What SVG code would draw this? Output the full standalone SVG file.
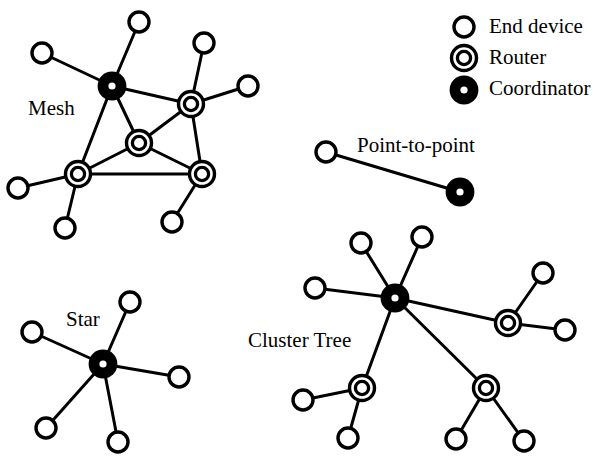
<svg xmlns="http://www.w3.org/2000/svg" xmlns:xlink="http://www.w3.org/1999/xlink" width="593" height="456" viewBox="0 0 593 456">
<style>
.e{stroke:#000;stroke-width:3;fill:none;stroke-linecap:round}
.t{font-family:"Liberation Serif","Times New Roman",serif;font-size:21px;fill:#000}
</style>
<defs>
<g id="end"><circle r="10" fill="#fff" stroke="#000" stroke-width="3.4"/></g>
<g id="rtr"><circle r="12.5" fill="#fff" stroke="#000" stroke-width="3.4"/><circle r="6.6" fill="#fff" stroke="#000" stroke-width="3.3"/></g>
<g id="crd"><circle r="14.4" fill="#000"/><circle r="3.6" fill="#fff"/></g>
</defs>
<rect width="593" height="456" fill="#fff"/>
<g id="connectors" class="e">
<!-- Mesh -->
<line x1="112" y1="86" x2="139" y2="22"/>
<line x1="112" y1="86" x2="42" y2="53"/>
<line x1="112" y1="86" x2="191" y2="104"/>
<line x1="112" y1="86" x2="139" y2="143"/>
<line x1="112" y1="86" x2="78" y2="174"/>
<line x1="191" y1="104" x2="204" y2="43"/>
<line x1="191" y1="104" x2="248" y2="86"/>
<line x1="191" y1="104" x2="139" y2="143"/>
<line x1="191" y1="104" x2="202" y2="174"/>
<line x1="139" y1="143" x2="78" y2="174"/>
<line x1="139" y1="143" x2="202" y2="174"/>
<line x1="78" y1="174" x2="202" y2="174"/>
<line x1="78" y1="174" x2="18" y2="188"/>
<line x1="78" y1="174" x2="65" y2="228"/>
<line x1="202" y1="174" x2="172" y2="222"/>
<!-- Point-to-point -->
<line x1="326" y1="152" x2="460" y2="192"/>
<!-- Star -->
<line x1="103" y1="364" x2="130" y2="302"/>
<line x1="103" y1="364" x2="32" y2="332"/>
<line x1="103" y1="364" x2="179" y2="377"/>
<line x1="103" y1="364" x2="46" y2="428"/>
<line x1="103" y1="364" x2="118" y2="442"/>
<!-- Cluster tree -->
<line x1="395" y1="298" x2="361" y2="243"/>
<line x1="395" y1="298" x2="422" y2="237"/>
<line x1="395" y1="298" x2="315" y2="288"/>
<line x1="395" y1="298" x2="508" y2="323"/>
<line x1="395" y1="298" x2="362" y2="388"/>
<line x1="395" y1="298" x2="486" y2="388"/>
<line x1="508" y1="323" x2="543" y2="273"/>
<line x1="508" y1="323" x2="565" y2="330"/>
<line x1="362" y1="388" x2="303" y2="400"/>
<line x1="362" y1="388" x2="348" y2="438"/>
<line x1="486" y1="388" x2="456" y2="439"/>
<line x1="486" y1="388" x2="524" y2="441"/>
</g>
<!-- Mesh nodes -->
<g id="mesh-coord"><use xlink:href="#crd" x="112" y="86"/></g>
<g id="mesh-r1"><use xlink:href="#rtr" x="191" y="104"/></g>
<g id="mesh-r2"><use xlink:href="#rtr" x="139" y="143"/></g>
<g id="mesh-r3"><use xlink:href="#rtr" x="78" y="174"/></g>
<g id="mesh-r4"><use xlink:href="#rtr" x="202" y="174"/></g>
<g id="mesh-e1"><use xlink:href="#end" x="139" y="22"/></g>
<g id="mesh-e2"><use xlink:href="#end" x="42" y="53"/></g>
<g id="mesh-e3"><use xlink:href="#end" x="204" y="43"/></g>
<g id="mesh-e4"><use xlink:href="#end" x="248" y="86"/></g>
<g id="mesh-e5"><use xlink:href="#end" x="18" y="188"/></g>
<g id="mesh-e6"><use xlink:href="#end" x="65" y="228"/></g>
<g id="mesh-e7"><use xlink:href="#end" x="172" y="222"/></g>
<text class="t" x="28" y="115">Mesh</text>
<!-- Legend -->
<g id="legend-end"><use xlink:href="#end" x="464" y="27"/><text class="t" x="489" y="33">End device</text></g>
<g id="legend-router"><use xlink:href="#rtr" x="464" y="58"/><text class="t" x="489" y="64">Router</text></g>
<g id="legend-coord"><use xlink:href="#crd" x="464" y="90"/><text class="t" x="489" y="95">Coordinator</text></g>
<!-- Point-to-point -->
<g id="p2p-end"><use xlink:href="#end" x="326" y="152"/></g>
<g id="p2p-coord"><use xlink:href="#crd" x="460" y="192"/></g>
<text class="t" x="357" y="152">Point-to-point</text>
<!-- Star -->
<g id="star-coord"><use xlink:href="#crd" x="103" y="364"/></g>
<g id="star-e1"><use xlink:href="#end" x="130" y="302"/></g>
<g id="star-e2"><use xlink:href="#end" x="32" y="332"/></g>
<g id="star-e3"><use xlink:href="#end" x="179" y="377"/></g>
<g id="star-e4"><use xlink:href="#end" x="46" y="428"/></g>
<g id="star-e5"><use xlink:href="#end" x="118" y="442"/></g>
<text class="t" x="66" y="326">Star</text>
<!-- Cluster tree -->
<g id="tree-coord"><use xlink:href="#crd" x="395" y="298"/></g>
<g id="tree-r1"><use xlink:href="#rtr" x="508" y="323"/></g>
<g id="tree-r2"><use xlink:href="#rtr" x="362" y="388"/></g>
<g id="tree-r3"><use xlink:href="#rtr" x="486" y="388"/></g>
<g id="tree-e1"><use xlink:href="#end" x="361" y="243"/></g>
<g id="tree-e2"><use xlink:href="#end" x="422" y="237"/></g>
<g id="tree-e3"><use xlink:href="#end" x="315" y="288"/></g>
<g id="tree-e4"><use xlink:href="#end" x="543" y="273"/></g>
<g id="tree-e5"><use xlink:href="#end" x="565" y="330"/></g>
<g id="tree-e6"><use xlink:href="#end" x="303" y="400"/></g>
<g id="tree-e7"><use xlink:href="#end" x="348" y="438"/></g>
<g id="tree-e8"><use xlink:href="#end" x="456" y="439"/></g>
<g id="tree-e9"><use xlink:href="#end" x="524" y="441"/></g>
<text class="t" x="248" y="347">Cluster Tree</text>
</svg>
